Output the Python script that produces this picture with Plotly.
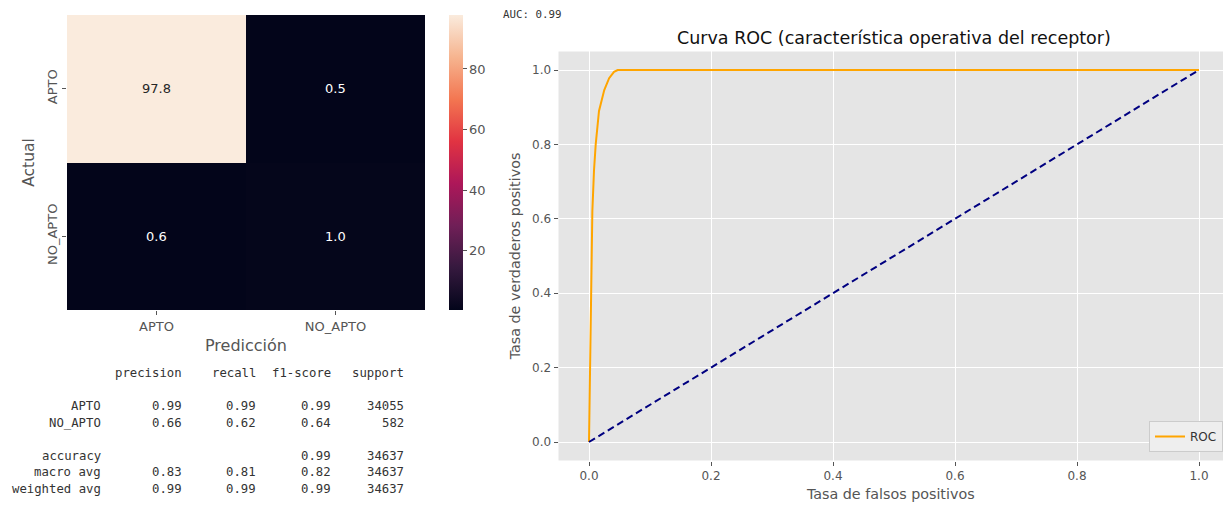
import plotly.graph_objects as go

# ---------------- data ----------------
cm_classes = ["APTO", "NO_APTO"]
cm_values = [[97.8, 0.5],
             [0.6, 1.0]]

fpr = [0.0, 0.0005, 0.001, 0.0028, 0.0044, 0.0055, 0.0082, 0.011, 0.0164,
       0.025, 0.033, 0.041, 0.047, 1.0]
tpr = [0.0, 0.05, 0.13, 0.31, 0.49, 0.62, 0.73, 0.80, 0.89,
       0.946, 0.978, 0.995, 1.0, 1.0]
diag_x = [0.0, 1.0]
diag_y = [0.0, 1.0]
auc_value = 0.99

report_header = ["precision", "recall", "f1-score", "support"]
report_rows = ["APTO", "NO_APTO", "accuracy", "macro avg", "weighted avg"]
report_precision = ["0.99", "0.66", "", "0.83", "0.99"]
report_recall = ["0.99", "0.62", "", "0.81", "0.99"]
report_f1 = ["0.99", "0.64", "0.99", "0.82", "0.99"]
report_support = ["34055", "582", "34637", "34637", "34637"]

# ---------------- style ----------------
W, H = 1223, 505
rocket = [
    [0.0, "#03051A"], [0.143, "#35193E"], [0.286, "#701F57"], [0.429, "#AD1759"],
    [0.571, "#E13342"], [0.714, "#F37651"], [0.857, "#F6B48F"], [1.0, "#FAEBDD"],
]
GRAY = "#555555"
FONT = "DejaVu Sans"
MONO = "DejaVu Sans Mono"
MONO_SIZE = 12.3

def px_x(p):
    return p / W

def px_y(p):
    return 1 - p / H

fig = go.Figure()

# heatmap
flat = [v for row in cm_values for v in row]
zmin, zmax = min(flat), max(flat)
fig.add_trace(go.Heatmap(
    z=cm_values, x=cm_classes, y=cm_classes,
    colorscale=rocket, zmin=zmin, zmax=zmax,
    xaxis="x", yaxis="y", hoverinfo="skip",
    colorbar=dict(
        x=px_x(449), xanchor="left", xpad=0,
        y=px_y(15), yanchor="top", ypad=0,
        len=295, lenmode="pixels", thickness=14, thicknessmode="pixels",
        outlinewidth=0, tickvals=[20, 40, 60, 80], ticks="outside",
        ticklen=4, tickcolor=GRAY, tickfont=dict(family=FONT, size=13, color=GRAY),
    ),
))

# ROC
fig.add_trace(go.Scatter(
    x=fpr, y=tpr, mode="lines", name="ROC",
    line=dict(color="orange", width=2), xaxis="x2", yaxis="y2",
))
fig.add_trace(go.Scatter(
    x=diag_x, y=diag_y, mode="lines", showlegend=False,
    line=dict(color="navy", width=2, dash="7px,4px"), xaxis="x2", yaxis="y2",
))

annotations = []
# heatmap cell labels
for i, rname in enumerate(cm_classes):
    for j, cname in enumerate(cm_classes):
        v = cm_values[i][j]
        light = (v - zmin) / (zmax - zmin) > 0.5
        annotations.append(dict(
            x=cname, y=rname, xref="x", yref="y", text=f"{v:.1f}", showarrow=False,
            font=dict(family=FONT, size=13, color="#262626" if light else "white"),
        ))

# classification report
line_y = [372.7, 405.9, 422.5, 455.7, 472.3, 488.9]
col_right = [184, 258, 332.5, 406]
label_right = 103
for k, h in enumerate(report_header):
    annotations.append(dict(x=px_x(col_right[k]), y=px_y(line_y[0]), xref="paper", yref="paper",
                            text=h, showarrow=False, xanchor="right", yanchor="middle",
                            font=dict(family=MONO, size=MONO_SIZE, color="#333333")))
cols = [report_precision, report_recall, report_f1, report_support]
for r, name in enumerate(report_rows):
    yy = px_y(line_y[r + 1])
    annotations.append(dict(x=px_x(label_right), y=yy, xref="paper", yref="paper", text=name,
                            showarrow=False, xanchor="right", yanchor="middle",
                            font=dict(family=MONO, size=MONO_SIZE, color="#333333")))
    for k, col in enumerate(cols):
        if col[r]:
            annotations.append(dict(x=px_x(col_right[k]), y=yy, xref="paper", yref="paper",
                                    text=col[r], showarrow=False, xanchor="right", yanchor="middle",
                                    font=dict(family=MONO, size=MONO_SIZE, color="#333333")))

# AUC text
annotations.append(dict(x=px_x(501), y=px_y(14), xref="paper", yref="paper",
                        text=f"AUC: {auc_value:.2f}", showarrow=False, xanchor="left",
                        yanchor="middle", font=dict(family=MONO, size=10.8, color="#333333")))
# ROC title
annotations.append(dict(x=px_x(894), y=px_y(38), xref="paper", yref="paper",
                        text="Curva ROC (característica operativa del receptor)",
                        showarrow=False, xanchor="center", yanchor="middle",
                        font=dict(family=FONT, size=17.5, color="#111111")))

x0_px, x1_px = 589, 1199
xr_left = -0.05
xr_right = (W - x0_px) / (x1_px - x0_px)
left_px = x0_px + xr_left * (x1_px - x0_px)

fig.update_layout(
    width=W, height=H, margin=dict(l=0, r=0, t=0, b=0),
    paper_bgcolor="white", plot_bgcolor="white",
    font=dict(family=FONT, color=GRAY),
    annotations=annotations,
    xaxis=dict(domain=[px_x(67), px_x(425)], anchor="y", showgrid=False, zeroline=False,
               ticks="outside", ticklen=4, tickcolor=GRAY,
               tickfont=dict(size=13, color=GRAY),
               title=dict(text="Predicción", font=dict(size=16, color=GRAY), standoff=7)),
    yaxis=dict(domain=[px_y(310), px_y(15)], anchor="x", showgrid=False, zeroline=False,
               autorange="reversed", ticks="outside", ticklen=4, tickcolor=GRAY,
               tickangle=-90, tickfont=dict(size=13, color=GRAY),
               title=dict(text="Actual", font=dict(size=15.5, color=GRAY), standoff=6)),
    xaxis2=dict(domain=[left_px / W, 1.0], anchor="y2", range=[xr_left, xr_right],
                showgrid=True, gridcolor="white", gridwidth=1, zeroline=False,
                tickvals=[0, 0.2, 0.4, 0.6, 0.8, 1.0], tickformat=".1f",
                ticks="outside", ticklen=4, tickcolor=GRAY,
                tickfont=dict(size=12, color=GRAY),
                title=dict(text="Tasa de falsos positivos", font=dict(size=14.3, color=GRAY), standoff=6)),
    yaxis2=dict(domain=[px_y(460.6), px_y(51.4)], anchor="x2", range=[-0.05, 1.05],
                showgrid=True, gridcolor="white", gridwidth=1, zeroline=False,
                tickvals=[0, 0.2, 0.4, 0.6, 0.8, 1.0], tickformat=".1f",
                ticks="outside", ticklen=4, tickcolor=GRAY,
                tickfont=dict(size=12, color=GRAY),
                title=dict(text="Tasa de verdaderos positivos", font=dict(size=14.3, color=GRAY), standoff=8)),
    legend=dict(x=1.0, xanchor="right", y=px_y(452), yanchor="bottom",
                bgcolor="#EEEEEE", bordercolor="#CCCCCC", borderwidth=1,
                font=dict(family=FONT, size=12, color="#333333")),
    shapes=[dict(type="rect", xref="x2 domain", yref="y2 domain", x0=0, x1=1, y0=0, y1=1,
                 fillcolor="#E5E5E5", line=dict(width=0), layer="below")],
)

fig.write_html("out.html")
